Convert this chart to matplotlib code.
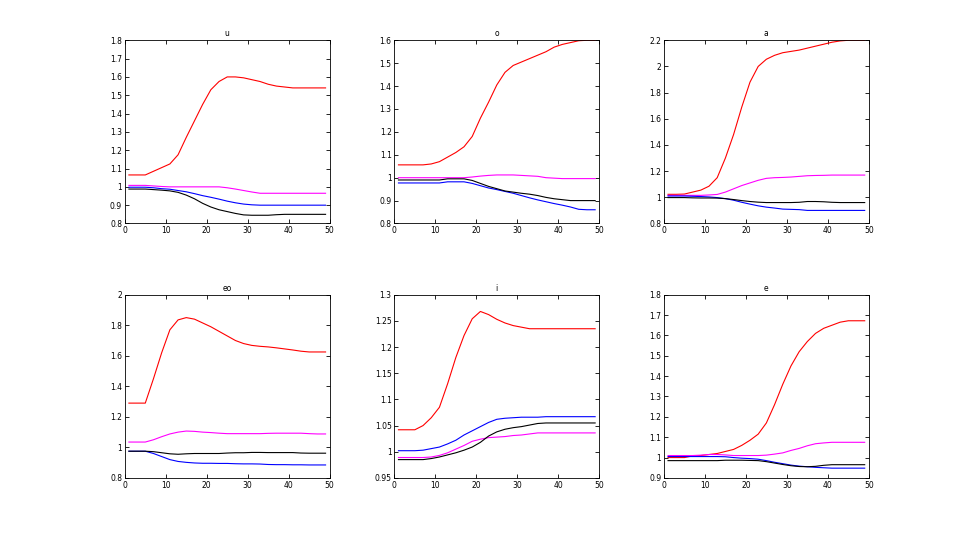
import numpy as np
import matplotlib
matplotlib.use('Agg')
import matplotlib.pyplot as plt
from matplotlib.ticker import FormatStrFormatter

# tiempo (muestras leidas cada 2 periodos)
t = [1, 3, 5, 7, 9, 11, 13, 15, 17, 19, 21, 23, 25, 27, 29, 31, 33, 35, 37, 39, 41, 43, 45, 47, 49]

titles = ['u', 'o', 'a', 'eo', 'i', 'e']

# panel u
u_red = [1.065, 1.065, 1.065, 1.085, 1.105, 1.125, 1.175, 1.27, 1.36, 1.45, 1.53, 1.575, 1.60,
         1.60, 1.595, 1.585, 1.575, 1.56, 1.55, 1.545, 1.54, 1.54, 1.54, 1.54, 1.54]
u_mag = [1.008, 1.008, 1.008, 1.005, 1.002, 1.0, 1.0, 1.0, 1.0, 1.0, 1.0, 1.0, 0.995,
         0.988, 0.98, 0.972, 0.965, 0.965, 0.965, 0.965, 0.965, 0.965, 0.965, 0.965, 0.965]
u_blue = [0.998, 0.998, 0.998, 0.995, 0.99, 0.987, 0.98, 0.973, 0.963, 0.952, 0.943, 0.933, 0.922,
          0.913, 0.906, 0.902, 0.9, 0.9, 0.9, 0.9, 0.9, 0.9, 0.9, 0.9, 0.9]
u_black = [0.988, 0.988, 0.988, 0.985, 0.982, 0.978, 0.97, 0.955, 0.935, 0.91, 0.89, 0.875, 0.865,
           0.855, 0.847, 0.845, 0.845, 0.845, 0.848, 0.85, 0.85, 0.85, 0.85, 0.85, 0.85]

# panel o
o_red = [1.056, 1.056, 1.056, 1.056, 1.06, 1.07, 1.09, 1.11, 1.135, 1.18, 1.26, 1.33, 1.405,
         1.46, 1.49, 1.505, 1.52, 1.535, 1.55, 1.57, 1.582, 1.59, 1.598, 1.6, 1.6]
o_mag = [1.0, 1.0, 1.0, 1.0, 1.0, 1.0, 1.0, 1.0, 1.0, 1.003, 1.007, 1.01, 1.012,
         1.012, 1.012, 1.01, 1.008, 1.006, 1.0, 0.998, 0.996, 0.996, 0.996, 0.996, 0.996]
o_blue = [0.977, 0.977, 0.977, 0.977, 0.977, 0.977, 0.982, 0.982, 0.982, 0.975, 0.965, 0.955, 0.948,
          0.94, 0.932, 0.922, 0.912, 0.903, 0.895, 0.887, 0.88, 0.872, 0.862, 0.86, 0.86]
o_black = [0.99, 0.99, 0.99, 0.99, 0.99, 0.99, 0.995, 0.995, 0.995, 0.988, 0.975, 0.962, 0.952,
           0.942, 0.937, 0.932, 0.928, 0.922, 0.914, 0.908, 0.904, 0.9, 0.9, 0.9, 0.9]

# panel a
a_red = [1.023, 1.023, 1.025, 1.04, 1.055, 1.085, 1.15, 1.3, 1.48, 1.69, 1.88, 2.0, 2.055,
         2.085, 2.105, 2.115, 2.125, 2.14, 2.155, 2.17, 2.185, 2.195, 2.2, 2.2, 2.2]
a_mag = [1.015, 1.015, 1.015, 1.015, 1.015, 1.018, 1.022, 1.04, 1.065, 1.09, 1.11, 1.13, 1.145,
         1.15, 1.152, 1.155, 1.16, 1.165, 1.167, 1.168, 1.17, 1.17, 1.17, 1.17, 1.17]
a_blue = [1.01, 1.01, 1.01, 1.008, 1.006, 1.003, 0.998, 0.99, 0.978, 0.962, 0.948, 0.935, 0.925,
          0.918, 0.91, 0.908, 0.906, 0.9, 0.9, 0.9, 0.9, 0.9, 0.9, 0.9, 0.9]
a_black = [0.998, 0.998, 0.998, 0.996, 0.995, 0.995, 0.994, 0.99, 0.983, 0.975, 0.968, 0.963, 0.96,
           0.96, 0.96, 0.96, 0.962, 0.968, 0.968, 0.966, 0.962, 0.96, 0.96, 0.96, 0.96]

# panel eo
eo_red = [1.29, 1.29, 1.29, 1.45, 1.62, 1.77, 1.835, 1.85, 1.84, 1.815, 1.79, 1.76, 1.73,
          1.70, 1.68, 1.668, 1.662, 1.658, 1.652, 1.645, 1.638, 1.63, 1.625, 1.625, 1.625]
eo_mag = [1.035, 1.035, 1.035, 1.05, 1.07, 1.088, 1.10, 1.107, 1.105, 1.1, 1.097, 1.093, 1.09,
          1.09, 1.09, 1.09, 1.09, 1.092, 1.093, 1.093, 1.093, 1.093, 1.09, 1.088, 1.088]
eo_blue = [0.975, 0.975, 0.975, 0.96, 0.94, 0.92, 0.908, 0.902, 0.898, 0.896, 0.896, 0.895, 0.895,
           0.893, 0.892, 0.892, 0.891, 0.888, 0.887, 0.887, 0.886, 0.886, 0.885, 0.885, 0.885]
eo_black = [0.975, 0.975, 0.975, 0.972, 0.965, 0.958, 0.955, 0.958, 0.96, 0.96, 0.96, 0.96, 0.963,
            0.965, 0.965, 0.967, 0.967, 0.966, 0.966, 0.966, 0.966, 0.963, 0.962, 0.962, 0.962]

# panel i
i_red = [1.042, 1.042, 1.042, 1.05, 1.065, 1.085, 1.13, 1.18, 1.222, 1.254, 1.268, 1.262, 1.253,
         1.246, 1.241, 1.238, 1.235, 1.235, 1.235, 1.235, 1.235, 1.235, 1.235, 1.235, 1.235]
i_mag = [0.989, 0.989, 0.989, 0.989, 0.99, 0.993, 0.998, 1.005, 1.012, 1.02, 1.024, 1.027, 1.028,
         1.029, 1.031, 1.032, 1.034, 1.036, 1.036, 1.036, 1.036, 1.036, 1.036, 1.036, 1.036]
i_blue = [1.002, 1.002, 1.002, 1.003, 1.006, 1.009, 1.015, 1.022, 1.032, 1.04, 1.048, 1.056, 1.062,
          1.064, 1.065, 1.066, 1.066, 1.066, 1.067, 1.067, 1.067, 1.067, 1.067, 1.067, 1.067]
i_black = [0.985, 0.985, 0.985, 0.985, 0.987, 0.99, 0.994, 0.998, 1.003, 1.009, 1.018, 1.03, 1.038,
           1.043, 1.046, 1.048, 1.051, 1.054, 1.055, 1.055, 1.055, 1.055, 1.055, 1.055, 1.055]

# panel e
e_red = [1.0, 1.0, 1.0, 1.008, 1.01, 1.015, 1.02, 1.03, 1.04, 1.06, 1.085, 1.115, 1.17,
         1.26, 1.36, 1.45, 1.52, 1.57, 1.61, 1.635, 1.65, 1.665, 1.672, 1.672, 1.672]
e_mag = [1.01, 1.01, 1.01, 1.01, 1.012, 1.015, 1.015, 1.013, 1.01, 1.01, 1.01, 1.01, 1.012,
         1.017, 1.023, 1.035, 1.045, 1.058, 1.068, 1.072, 1.075, 1.075, 1.075, 1.075, 1.075]
e_blue = [1.005, 1.005, 1.005, 1.005, 1.005, 1.005, 1.005, 1.004, 1.0, 0.997, 0.995, 0.992, 0.985,
          0.977, 0.97, 0.963, 0.958, 0.955, 0.952, 0.95, 0.948, 0.948, 0.948, 0.948, 0.948]
e_black = [0.985, 0.985, 0.985, 0.985, 0.985, 0.985, 0.985, 0.987, 0.987, 0.987, 0.986, 0.985, 0.98,
           0.973, 0.966, 0.96, 0.956, 0.955, 0.957, 0.962, 0.965, 0.965, 0.965, 0.965, 0.965]

series = [
    (u_red, u_mag, u_blue, u_black),
    (o_red, o_mag, o_blue, o_black),
    (a_red, a_mag, a_blue, a_black),
    (eo_red, eo_mag, eo_blue, eo_black),
    (i_red, i_mag, i_blue, i_black),
    (e_red, e_mag, e_blue, e_black),
]

# limites y paso de los ejes y
ylims = [(0.8, 1.8, 0.1), (0.8, 1.6, 0.1), (0.8, 2.2, 0.2),
         (0.8, 2.0, 0.2), (0.95, 1.3, 0.05), (0.9, 1.8, 0.1)]

colors = ['red', 'magenta', 'blue', 'black']

fig = plt.figure(figsize=(9.6, 5.37), dpi=100)

# posiciones tipo subplot de MATLAB
lefts = [0.13, 0.4108, 0.6916]
bottoms = [0.5838, 0.11]
w, h = 0.2134, 0.3412

for k in range(6):
    ax = fig.add_axes([lefts[k % 3], bottoms[k // 3], w, h])
    for y, col in zip(series[k], colors):
        ax.plot(t, y, color=col, linewidth=0.8)
    lo, hi, step = ylims[k]
    ax.set_xlim(0, 50)
    ax.set_ylim(lo, hi)
    ax.set_xticks(np.arange(0, 51, 10))
    ax.set_yticks(np.arange(lo, hi + step / 2, step))
    ax.yaxis.set_major_formatter(FormatStrFormatter('%g'))
    ax.tick_params(direction='in', length=3, width=0.6, labelsize=5.5,
                   top=True, right=True, pad=2)
    for s in ax.spines.values():
        s.set_linewidth(0.6)
    ax.set_title(titles[k], fontsize=5.5, pad=3)

plt.savefig('out.png', dpi=100)
plt.close('all')
